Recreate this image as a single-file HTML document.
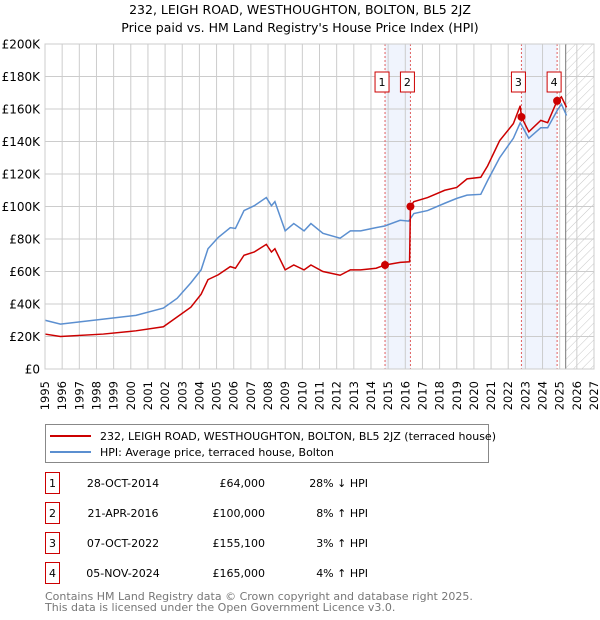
<!DOCTYPE html>
<html><head><meta charset="utf-8"><style>
body{margin:0;background:#fff;font-family:"DejaVu Sans","Liberation Sans",sans-serif;}
#wrap{position:relative;width:600px;height:620px;overflow:hidden;}
svg text{font-family:"DejaVu Sans","Liberation Sans",sans-serif;}
</style></head><body><div id="wrap">
<svg id="chart" width="600" height="620"></svg>
</div>
<script>
const hpiYears=[1995.0,1995.9,1998.4,2000.3,2001.9,2002.7,2003.5,2004.1,2004.5,2005.1,2005.8,2006.1,2006.6,2007.2,2007.9,2008.2,2008.4,2009.0,2009.5,2010.1,2010.5,2011.2,2012.2,2012.8,2013.4,2014.3,2014.8,2015.7,2016.2,2016.5,2017.3,2018.3,2019.0,2019.6,2020.4,2020.8,2021.5,2022.3,2022.7,2023.2,2023.9,2024.3,2024.85,2025.1,2025.4];
const hpiValues=[30,27.6,30.7,33,37.5,43.5,53,61,74,81,87,86.5,97.5,100.5,105.5,100.5,103,85,89.5,85,89.5,83.5,80.5,85,85,87,88,91.5,91,95.7,97.5,102,105,107,107.5,116,130,142,151.5,142,148.5,148.5,159,163,156];
const priceYears=[1995.0,1995.9,1998.4,2000.3,2001.9,2002.7,2003.5,2004.1,2004.5,2005.1,2005.8,2006.1,2006.6,2007.2,2007.9,2008.2,2008.4,2009.0,2009.5,2010.1,2010.5,2011.2,2012.2,2012.8,2013.4,2014.3,2014.82,2015.7,2016.25,2016.3,2016.5,2017.3,2018.3,2019.0,2019.6,2020.4,2020.8,2021.5,2022.3,2022.7,2022.77,2023.2,2023.9,2024.3,2024.85,2025.1,2025.4];
const priceValues=[21.5,20,21.5,23.5,26,32,38,46,55,58,63,62,70,72,76.7,72,74,61,64,61,64,60,57.7,61,61,62,64,65.6,66,100,103,105.5,110,111.7,117,118,125,140.5,151,162,155.1,146,153,151.6,165,167.5,161];
const saleYears=[2014.82,2016.3,2022.77,2024.85];
const saleValues=[64,100,155.1,165];
const saleLabels=["1","2","3","4"];
const yTicks=[0,20,40,60,80,100,120,140,160,180,200];
const yTickLabels=["£0","£20K","£40K","£60K","£80K","£100K","£120K","£140K","£160K","£180K","£200K"];
const xTicks=[1995,1996,1997,1998,1999,2000,2001,2002,2003,2004,2005,2006,2007,2008,2009,2010,2011,2012,2013,2014,2015,2016,2017,2018,2019,2020,2021,2022,2023,2024,2025,2026,2027];
const tableDates=["28-OCT-2014","21-APR-2016","07-OCT-2022","05-NOV-2024"];
const tablePrices=["£64,000","£100,000","£155,100","£165,000"];
const tableHpi=["28% ↓ HPI","8% ↑ HPI","3% ↑ HPI","4% ↑ HPI"];

const L=45,R=594,T=44,B=369,X0=1995,X1=2027,DATA_END=2025.35;
const sx=y=>L+(y-X0)/(X1-X0)*(R-L);
const sy=v=>B-v/200*(B-T);
const svg=document.getElementById('chart');const NS='http://www.w3.org/2000/svg';
function mk(tag,attrs,parent){const e=document.createElementNS(NS,tag);for(const k in attrs)e.setAttribute(k,attrs[k]);(parent||svg).appendChild(e);return e;}

let t=mk('text',{x:300,y:14,'text-anchor':'middle','font-size':12.5});t.textContent='232, LEIGH ROAD, WESTHOUGHTON, BOLTON, BL5 2JZ';


t=mk('text',{x:300,y:32,'text-anchor':'middle','font-size':12.5});t.textContent="Price paid vs. HM Land Registry's House Price Index (HPI)";



[[0,1],[2,3]].forEach(p=>{const r=mk('rect',{x:sx(saleYears[p[0]]),y:T,width:sx(saleYears[p[1]])-sx(saleYears[p[0]]),height:B-T,fill:'#f0f4fd'});

});
const defs=mk('defs',{});const pat=mk('pattern',{id:'h',width:6,height:6,patternUnits:'userSpaceOnUse',patternTransform:'rotate(45)'},defs);
mk('line',{x1:0,y1:0,x2:0,y2:6,stroke:'#c8c8c8','stroke-width':1},pat);
const hr=mk('rect',{x:sx(DATA_END),y:T,width:R-sx(DATA_END),height:B-T,fill:'url(#h)'});


xTicks.forEach(y=>{const l=mk('line',{x1:sx(y),x2:sx(y),y1:T,y2:B,stroke:'#cccccc','stroke-width':1});


const tx=mk('text',{transform:`translate(${sx(y)+4},${381}) rotate(-90)`,'text-anchor':'end','font-size':11.5});tx.textContent=y;

});
yTicks.forEach((v,i)=>{const l=mk('line',{x1:L,x2:R,y1:sy(v),y2:sy(v),stroke:'#cccccc','stroke-width':1});


const tx=mk('text',{x:40,y:sy(v)+4.5,'text-anchor':'end','font-size':12});tx.textContent=yTickLabels[i];

});
const dl=mk('line',{x1:sx(DATA_END),x2:sx(DATA_END),y1:T,y2:B,stroke:'#777','stroke-width':1});


saleYears.forEach(y=>{const l=mk('line',{x1:sx(y),x2:sx(y),y1:T,y2:B,stroke:'#e06060','stroke-width':1,'stroke-dasharray':'2,2'});

});
const hp=mk('polyline',{points:hpiYears.map((y,i)=>sx(y)+','+sy(hpiValues[i])).join(' '),fill:'none',stroke:'#5b8fd0','stroke-width':1.5});


const pp=mk('polyline',{points:priceYears.map((y,i)=>sx(y)+','+sy(priceValues[i])).join(' '),fill:'none',stroke:'#cc0000','stroke-width':1.5});


saleYears.forEach((y,i)=>{const c=mk('circle',{cx:sx(y),cy:sy(saleValues[i]),r:4,fill:'#cc0000'});


const bx=sx(y)-3;
const g=mk('g',{});


mk('rect',{x:bx-7,y:72,width:14,height:20,fill:'#fff',stroke:'#cc0000','stroke-width':1},g);
const tx=mk('text',{x:bx,y:86,'text-anchor':'middle','font-size':11},g);tx.textContent=saleLabels[i];});
const bd=mk('rect',{x:L,y:T,width:R-L,height:B-T,fill:'none',stroke:'#cccccc'});



const lg=mk('g',{});


mk('rect',{x:45.5,y:424.5,width:443,height:38,fill:'#fff',stroke:'#888'},lg);
mk('line',{x1:50,x2:91,y1:436,y2:436,stroke:'#cc0000','stroke-width':2},lg);
mk('line',{x1:50,x2:91,y1:452,y2:452,stroke:'#5b8fd0','stroke-width':2},lg);
t=mk('text',{x:100,y:440,'font-size':11},lg);t.textContent='232, LEIGH ROAD, WESTHOUGHTON, BOLTON, BL5 2JZ (terraced house)';


t=mk('text',{x:100,y:456,'font-size':11},lg);t.textContent='HPI: Average price, terraced house, Bolton';



tableDates.forEach((d,i)=>{const cy=483+i*30;const g=mk('g',{});


mk('rect',{x:45.5,y:cy-10.5,width:14,height:21,fill:'#fff',stroke:'#cc0000'},g);
let a=mk('text',{x:52.5,y:cy+4,'text-anchor':'middle','font-size':11},g);a.textContent=saleLabels[i];
a=mk('text',{x:123,y:cy+4,'text-anchor':'middle','font-size':11},g);a.textContent=d;
a=mk('text',{x:265,y:cy+4,'text-anchor':'end','font-size':11},g);a.textContent=tablePrices[i];
a=mk('text',{x:368,y:cy+4,'text-anchor':'end','font-size':11},g);a.textContent=tableHpi[i];});
t=mk('text',{x:45,y:600,'font-size':11,fill:'#777'});t.textContent='Contains HM Land Registry data © Crown copyright and database right 2025.';


t=mk('text',{x:45,y:611,'font-size':11,fill:'#777'});t.textContent='This data is licensed under the Open Government Licence v3.0.';


</script></body></html>
